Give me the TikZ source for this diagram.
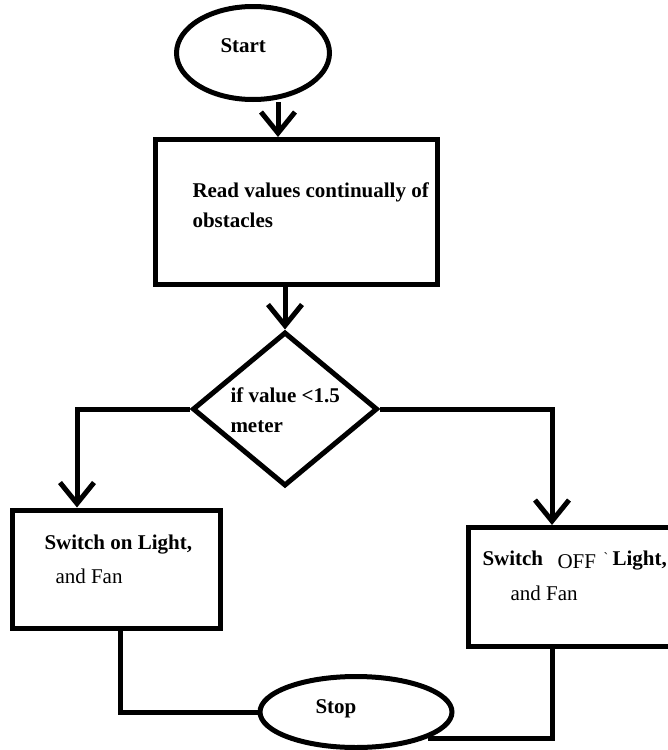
\documentclass[tikz,border=0pt]{standalone}
\usepackage{fontspec}
\setmainfont{Liberation Serif}
\usetikzlibrary{shapes.geometric,arrows.meta}

\begin{document}
\begin{tikzpicture}[x=1pt,y=-1pt,line width=5pt,
		term/.style={draw,ellipse,inner sep=0pt},
		proc/.style={draw,rectangle,inner sep=0pt},
		test/.style={draw,diamond,inner sep=0pt},
		txt/.style={anchor=base west,inner sep=0pt,font=\fontsize{21}{25}\selectfont\bfseries},
		plaintxt/.style={txt,font=\fontsize{21}{25}\selectfont},
		arr/.style={-{Straight Barb[length=21pt,width=34pt]}}]
		\useasboundingbox (0,0) rectangle (668,750);
		\clip (0,0) rectangle (668,750);

		\node[term,minimum width=153pt,minimum height=93pt] (start) at (253,53) {};
		\node[proc,minimum width=282pt,minimum height=145pt] (read) at (296,212) {};
		\node[test,minimum width=185pt,minimum height=154pt] (cond) at (285,409) {};
		\node[proc,minimum width=208pt,minimum height=118pt] (on) at (116,569) {};
		\node[proc,minimum width=232pt,minimum height=119pt] (off) at (584,587) {};
		\node[term,minimum width=192pt,minimum height=71pt] (stop) at (356,712) {};

		\node[txt] (startlbl) at (218,52) {Start};
		\node[txt] (readlbl1) at (190,197) {Read values continually of};
		\node[txt] (readlbl2) at (190,227) {obstacles};
		\node[txt] (condlbl1) at (228,402) {if value <1.5};
		\node[txt] (condlbl2) at (228,432) {meter};
		\node[txt] (onlbl1) at (42,549) {Switch on Light,};
		\node[plaintxt] (onlbl2) at (53,583) {and Fan};
		\node[txt] (offlbl1) at (480,565) {Switch};
		\node[plaintxt] (offlbl2) at (555,568) {OFF};
		\node[plaintxt,font=\fontsize{14}{16}\selectfont] (offlbl3) at (601,562) {\textasciigrave};
		\node[txt] (offlbl4) at (610,565) {Light,};
		\node[plaintxt] (offlbl5) at (508,600) {and Fan};
		\node[txt] (stoplbl) at (313,713) {Stop};

		\draw[arr] ([xshift=25pt]start.south) -- ([xshift=25pt]start.south |- read.north);
		\draw[arr] (cond.north |- read.south) -- (cond.north);
		\draw[arr] (cond.west) -| ([xshift=-39pt]on.north);
		\draw[arr] (cond.east) -| ([xshift=-32pt]off.north);
		\draw ([xshift=4pt]on.south) |- (stop.west);
		\draw ([xshift=-32pt]off.south) |- (stop.-20);
	\end{tikzpicture}
\end{document}
